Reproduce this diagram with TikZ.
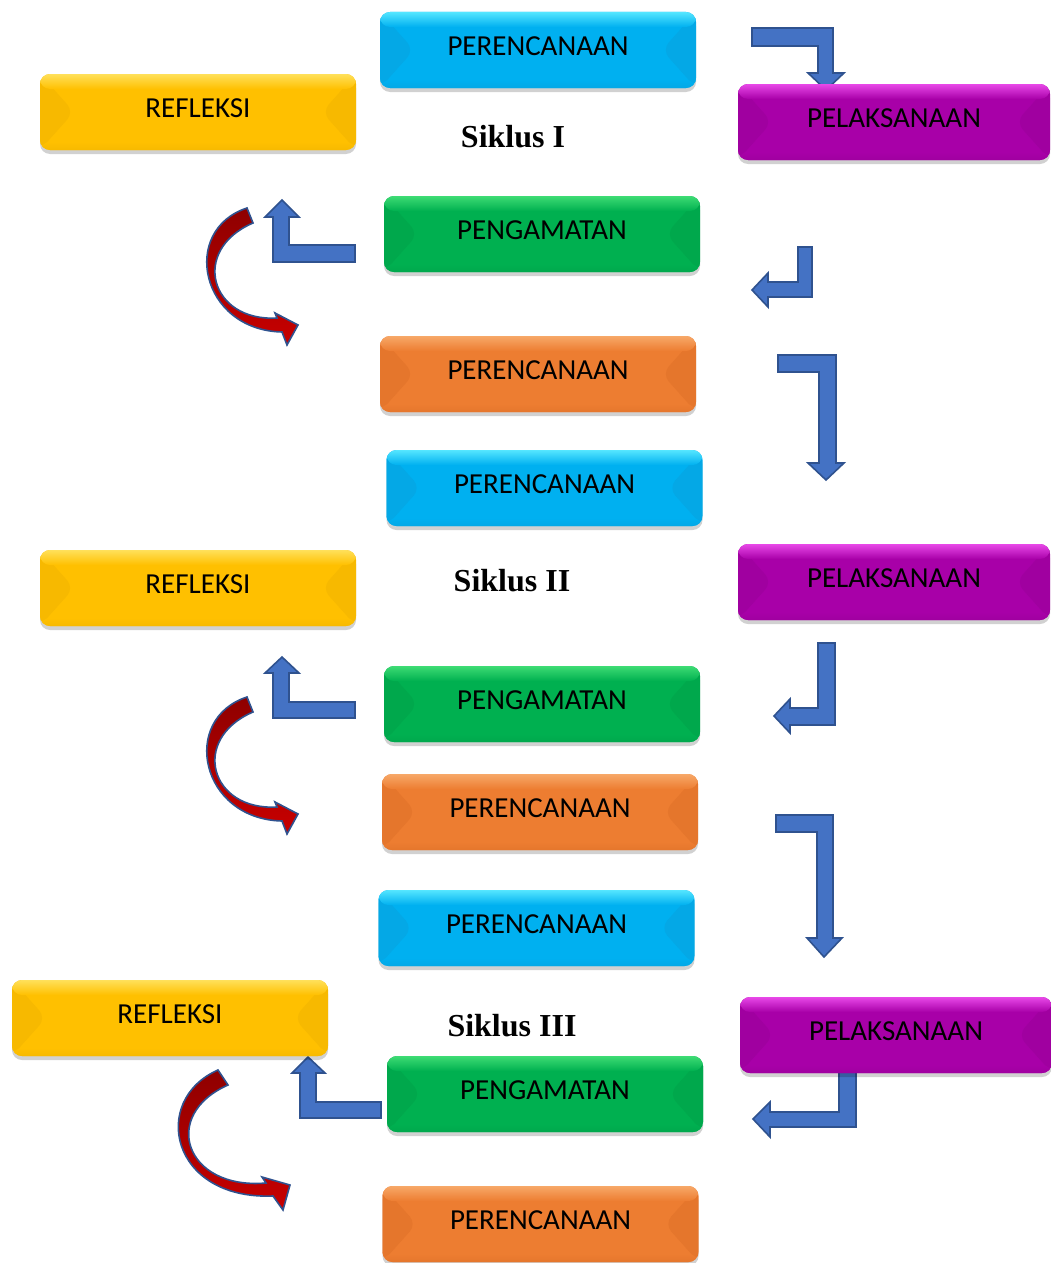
\documentclass[tikz,border=0pt]{standalone}
\usepackage{fontspec}
\newfontfamily\btnfont{Carlito}
\newfontfamily\sikfont{Liberation Serif}
\usetikzlibrary{shadows}
\definecolor{cyanB}{HTML}{00B0F0}
\definecolor{cyanBtop}{HTML}{55E6FF}
\definecolor{cyanBside}{HTML}{04A8E6}
\definecolor{yelB}{HTML}{FFC000}
\definecolor{yelBtop}{HTML}{FFE05A}
\definecolor{yelBside}{HTML}{F7B900}
\definecolor{magB}{HTML}{A800A8}
\definecolor{magBtop}{HTML}{E848E8}
\definecolor{magBside}{HTML}{A000A0}
\definecolor{grnB}{HTML}{00B050}
\definecolor{grnBtop}{HTML}{3EDC74}
\definecolor{grnBside}{HTML}{00A84C}
\definecolor{orgB}{HTML}{ED7D31}
\definecolor{orgBtop}{HTML}{F7A868}
\definecolor{orgBside}{HTML}{E5762C}
\definecolor{arrowblue}{HTML}{4472C4}
\definecolor{arrowedge}{HTML}{2F528F}
\definecolor{redtop}{HTML}{8E0000}
\definecolor{redbot}{HTML}{C80000}
\tikzset{
  btnbase/.style={rounded corners=10pt, minimum width=316pt, minimum height=76pt,
    inner sep=0pt, text height=18.5pt, text depth=8pt, text=black,
    font=\btnfont\fontsize{29}{34}\selectfont,
    drop shadow={shadow xshift=0pt, shadow yshift=-4pt, opacity=0.18, fill=black}},
  btn/.style={btnbase, fill=#1, path picture={
    \fill[#1side] (path picture bounding box.north west) -- ([xshift=34pt]path picture bounding box.west)
       -- (path picture bounding box.south west) -- cycle;
    \fill[#1side] (path picture bounding box.north east) -- ([xshift=-34pt]path picture bounding box.east)
       -- (path picture bounding box.south east) -- cycle;
    \shade[top color=#1top, bottom color=#1] (path picture bounding box.north west)
       rectangle ([yshift=-15pt]path picture bounding box.north east);
    \shade[top color=#1, bottom color=#1side] ([yshift=8pt]path picture bounding box.south west)
       rectangle (path picture bounding box.south east);
  }},
  barrow/.style={fill=arrowblue, draw=arrowedge, line width=1.6pt, line join=miter},
  rarrow/.style={top color=redtop, bottom color=redbot, draw=arrowedge, line width=1.6pt, line join=miter},
  siklus/.style={anchor=base, inner sep=0pt, font=\sikfont\bfseries\fontsize{32}{38}\selectfont}
}
\begin{document}
\begin{tikzpicture}[x=1pt, y=-1pt]
\clip (0,0) rectangle (1051,1263);
\fill[white] (0,0) rectangle (1051,1263);

% blue bent arrows
\draw[barrow] (752,28) -- (833,28) -- (833,73) -- (844,73) -- (826,90) -- (808,73) -- (818,73) -- (818,46) -- (752,46) -- cycle;
\draw[barrow] (355,245) -- (289,245) -- (289,217) -- (299,217) -- (282,200) -- (265,217) -- (273,217) -- (273,262) -- (355,262) -- cycle;
\draw[barrow] (798,247) -- (812,247) -- (812,297) -- (768,297) -- (768,307) -- (752,290) -- (768,273) -- (768,282) -- (798,282) -- cycle;
\draw[barrow] (778,355) -- (836,355) -- (836,463) -- (844,463) -- (826,480) -- (808,463) -- (819,463) -- (819,372) -- (778,372) -- cycle;
\draw[barrow] (355,702) -- (289,702) -- (289,673) -- (299,673) -- (282,657) -- (265,673) -- (273,673) -- (273,718) -- (355,718) -- cycle;
\draw[barrow] (818,643) -- (835,643) -- (835,725) -- (790,725) -- (790,733) -- (774,716) -- (790,699) -- (790,708) -- (818,708) -- cycle;
\draw[barrow] (776,815) -- (833,815) -- (833,938) -- (842,938) -- (824,957) -- (807,938) -- (817,938) -- (817,832) -- (776,832) -- cycle;
\draw[barrow] (381,1102) -- (316,1102) -- (316,1073) -- (325,1073) -- (308,1057) -- (292,1073) -- (300,1073) -- (300,1118) -- (381,1118) -- cycle;
\draw[barrow] (839,1068) -- (856,1068) -- (856,1127) -- (770,1127) -- (770,1137) -- (753,1119) -- (770,1102) -- (770,1112) -- (839,1112) -- cycle;

% boxes, cycle I
\node[btn=cyanB] (per1) at (538,50) {PERENCANAAN};
\node[btn=yelB] (ref1) at (198,112) {REFLEKSI};
\node[btn=magB, minimum width=312pt] (pel1) at (894,122) {PELAKSANAAN};
\node[btn=grnB] (pen1) at (542,234) {PENGAMATAN};
\node[btn=orgB] (rev1) at (538,374) {PERENCANAAN};
\node[siklus] (s1) at (513,147.5) {Siklus I};

% cycle II
\node[btn=cyanB] (per2) at (544.5,488) {PERENCANAAN};
\node[btn=yelB] (ref2) at (198,588) {REFLEKSI};
\node[btn=magB, minimum width=312pt] (pel2) at (894,582) {PELAKSANAAN};
\node[btn=grnB] (pen2) at (542,704) {PENGAMATAN};
\node[btn=orgB] (rev2) at (540,812) {PERENCANAAN};
\node[siklus] (s2) at (512,591.5) {Siklus II};

% cycle III
\node[btn=cyanB] (per3) at (536.5,928) {PERENCANAAN};
\node[btn=yelB] (ref3) at (170,1018) {REFLEKSI};
\node[btn=magB, minimum width=312pt] (pel3) at (896,1035) {PELAKSANAAN};
\node[btn=grnB] (pen3) at (545,1094) {PENGAMATAN};
\node[btn=orgB] (rev3) at (540.5,1224) {PERENCANAAN};
\node[siklus] (s3) at (512,1036.5) {Siklus III};

% red curved arrows
\shade[rarrow] (247,208) .. controls (180,230) and (200,330) .. (282,332) -- (287,345) -- (298,325) -- (275,313) -- (277,318) .. controls (210,322) and (190,250) .. (253,223) -- cycle;
\begin{scope}[shift={(0,489)}]
\shade[rarrow] (247,208) .. controls (180,230) and (200,330) .. (282,332) -- (287,345) -- (298,325) -- (275,313) -- (277,318) .. controls (210,322) and (190,250) .. (253,223) -- cycle;
\end{scope}
\shade[rarrow] (218,1070) .. controls (150,1100) and (170,1200) .. (273,1196) -- (283,1210) -- (290,1185) -- (262,1177) -- (266,1183) .. controls (185,1190) and (160,1115) .. (228,1085) -- cycle;
\end{tikzpicture}
\end{document}
